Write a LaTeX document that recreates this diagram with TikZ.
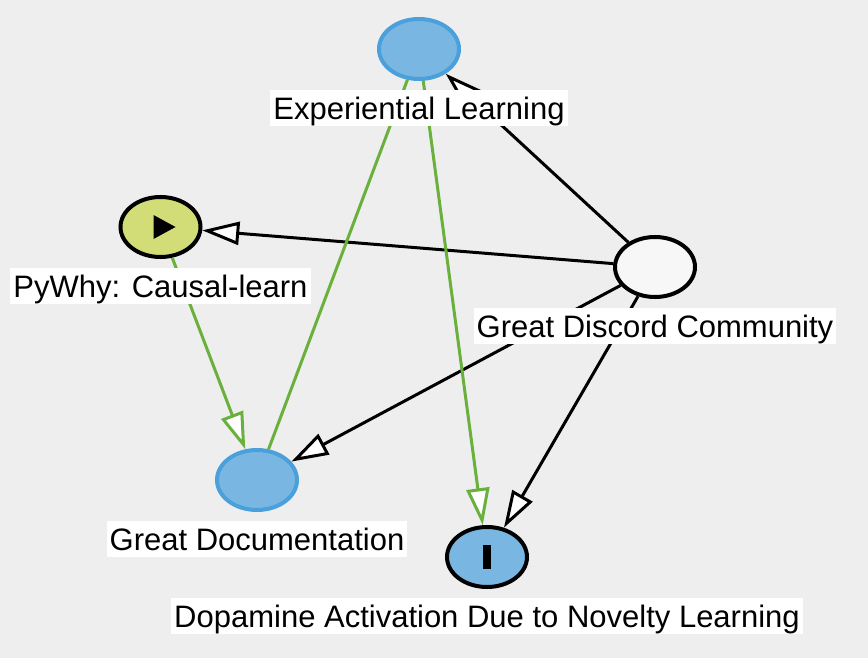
\documentclass[tikz,border=0pt]{standalone}
\usepackage{fontspec}
\setmainfont{Liberation Sans}
\usetikzlibrary{positioning, shapes.geometric, arrows.meta}
\definecolor{bgcol}{RGB}{238,238,238}
\definecolor{bluefill}{RGB}{122,182,226}
\definecolor{blueline}{RGB}{74,160,218}
\definecolor{limefill}{RGB}{210,221,120}
\definecolor{greenline}{RGB}{106,176,60}

\begin{document}
\begin{tikzpicture}[x=1pt, y=-1pt, node distance=9pt, >={Triangle[length=37pt, width=23pt, line width=3pt, fill=white]}]
  \tikzstyle{var} = [draw, ellipse, line width=4pt, minimum width=80pt, minimum height=60pt, inner sep=0pt]
  \tikzstyle{obs} = [var, fill=bluefill]
  \tikzstyle{caption} = [fill=white, font=\fontsize{31}{36}\selectfont, inner xsep=3pt, inner ysep=0pt, text height=29pt, text depth=7pt]
  \tikzstyle{link} = [->, line width=3pt]
  \tikzstyle{glink} = [link, draw=greenline]
  \fill [bgcol] (0,0) rectangle (868,658);
  \useasboundingbox (0,0) rectangle (868,658);
  \node [obs, draw=blueline] (exp) at (419,49) {};
  \node [var, fill=limefill] (pywhy) at (160.5,227) {};
  \node [var, fill=white!97!black] (discord) at (655,267) {};
  \node [obs, draw=blueline] (doc) at (257,480) {};
  \node [obs] (dopa) at (487,557) {};
  % exposure and outcome marks
  \fill ([shift={(-7,-12)}]pywhy.center) -- ++(0,24) -- ++(22,-12) -- cycle;
  \fill ([shift={(-4,-12)}]dopa.center) rectangle ++(8,24);

  \draw [link] (discord) -- (exp);
  \draw [link] (discord) -- (pywhy);
  \draw [link] (discord) -- (doc);
  \draw [link] (discord) -- (dopa);
  \draw [glink] (pywhy) -- (doc);
  \draw [glink, -] (doc) -- (exp);
  \draw [glink] (exp) -- (dopa);

  \node [caption, below=of exp] (explabel) {Experiential Learning};
  \node [caption, below=of pywhy] (pywhylabel) {PyWhy: Causal-learn};
  \node [caption, below=of discord] (discordlabel) {Great Discord Community};
  \node [caption, below=of doc] (doclabel) {Great Documentation};
  \node [caption, below=of dopa] (dopalabel) {Dopamine Activation Due to Novelty Learning};
\end{tikzpicture}
\end{document}
